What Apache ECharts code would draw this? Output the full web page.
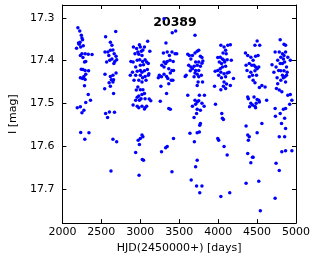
<!DOCTYPE html>
<html>
<head>
<meta charset="utf-8">
<script src="https://cdn.jsdelivr.net/npm/echarts@6/dist/echarts.min.js"></script>
<style>html,body{margin:0;padding:0;background:#fff}#c{width:316px;height:259px}</style>
</head>
<body>
<div id="c"></div>
<script>
// Each season: [HJD-2450000, I mag]
const season1 = [[2199,17.323],[2223,17.331],[2243,17.341],[2207,17.359],[2227,17.357],[2251,17.347],[2259,17.351],[2182,17.371],[2215,17.362],[2235,17.368],[2268,17.365],[2231,17.388],[2251,17.384],[2264,17.393],[2292,17.384],[2332,17.385],[2381,17.386],[2284,17.403],[2300,17.402],[2243,17.420],[2264,17.421],[2292,17.423],[2336,17.424],[2276,17.437],[2300,17.432],[2231,17.440],[2259,17.442],[2292,17.444],[2284,17.459],[2332,17.479],[2300,17.498],[2361,17.493],[2191,17.510],[2231,17.508],[2251,17.522],[2276,17.516],[2235,17.568],[2288,17.584],[2341,17.569]];
const season2 = [[2555,17.344],[2616,17.357],[2685,17.332],[2636,17.364],[2547,17.380],[2584,17.380],[2616,17.376],[2649,17.375],[2596,17.388],[2665,17.384],[2689,17.390],[2697,17.398],[2636,17.396],[2568,17.403],[2608,17.399],[2673,17.402],[2661,17.407],[2547,17.432],[2616,17.437],[2649,17.434],[2689,17.429],[2628,17.445],[2649,17.450],[2600,17.452],[2616,17.460],[2657,17.445],[2543,17.466],[2657,17.477],[2555,17.524],[2580,17.533],[2604,17.520],[2669,17.521],[2649,17.584],[2697,17.590],[2624,17.658]];
const season3 = [[2912,17.368],[2953,17.372],[2989,17.363],[3001,17.368],[3014,17.378],[2969,17.380],[3034,17.375],[3054,17.368],[3095,17.355],[3123,17.378],[3022,17.388],[2981,17.385],[2932,17.384],[2880,17.402],[2908,17.403],[2961,17.399],[2993,17.398],[3030,17.402],[3062,17.398],[3082,17.403],[3103,17.407],[3042,17.410],[3001,17.411],[2941,17.415],[2900,17.427],[2961,17.425],[3001,17.423],[3022,17.427],[3054,17.424],[3091,17.421],[3111,17.431],[3001,17.434],[3030,17.440],[3062,17.437],[3103,17.434],[2920,17.446],[2981,17.446],[3022,17.450],[2872,17.434],[2941,17.434],[3074,17.446],[2969,17.462],[2949,17.469],[3001,17.468],[3034,17.468],[3054,17.477],[3022,17.479],[2981,17.483],[2961,17.486],[3010,17.489],[2941,17.493],[2989,17.493],[3062,17.489],[3115,17.490],[3135,17.494],[2908,17.504],[2961,17.507],[3022,17.507],[3062,17.510],[3082,17.507],[2981,17.510],[3054,17.513],[3022,17.574],[3034,17.578],[3001,17.582],[2973,17.586],[2989,17.596],[2941,17.615],[3026,17.631],[3042,17.633],[2985,17.668]];
const season4 = [[3305,17.302],[3411,17.335],[3455,17.331],[3330,17.359],[3297,17.382],[3346,17.380],[3407,17.380],[3374,17.388],[3447,17.384],[3468,17.384],[3305,17.403],[3326,17.407],[3346,17.402],[3382,17.399],[3423,17.402],[3277,17.411],[3305,17.415],[3366,17.419],[3407,17.423],[3427,17.423],[3245,17.434],[3273,17.438],[3305,17.432],[3338,17.437],[3386,17.429],[3354,17.442],[3398,17.446],[3366,17.454],[3419,17.446],[3232,17.440],[3265,17.460],[3338,17.477],[3257,17.495],[3366,17.512],[3386,17.514],[3427,17.582],[3346,17.601],[3326,17.604],[3273,17.613],[3407,17.660]];
const season5 = [[3703,17.341],[3610,17.385],[3630,17.388],[3670,17.388],[3703,17.382],[3731,17.378],[3751,17.376],[3772,17.390],[3792,17.393],[3804,17.401],[3650,17.396],[3711,17.403],[3751,17.403],[3622,17.411],[3650,17.415],[3691,17.413],[3731,17.411],[3772,17.413],[3792,17.406],[3670,17.419],[3711,17.423],[3751,17.423],[3642,17.424],[3703,17.429],[3731,17.432],[3589,17.434],[3577,17.437],[3691,17.438],[3751,17.438],[3784,17.434],[3743,17.450],[3731,17.458],[3800,17.450],[3610,17.481],[3759,17.481],[3824,17.481],[3703,17.493],[3731,17.497],[3751,17.494],[3711,17.502],[3792,17.500],[3820,17.507],[3670,17.507],[3731,17.514],[3772,17.516],[3723,17.524],[3691,17.533],[3772,17.547],[3764,17.551],[3638,17.570],[3731,17.569],[3759,17.567],[3695,17.590],[3731,17.633],[3711,17.648],[3654,17.679],[3723,17.693],[3792,17.693],[3764,17.709]];
const season6 = [[4035,17.364],[4076,17.368],[4124,17.364],[4157,17.363],[4096,17.376],[4063,17.382],[4104,17.384],[3995,17.393],[4027,17.392],[4055,17.396],[4076,17.399],[4116,17.398],[4169,17.399],[4015,17.403],[4043,17.407],[4084,17.403],[3962,17.425],[3995,17.423],[4027,17.419],[4055,17.415],[4096,17.413],[4035,17.427],[4076,17.431],[4116,17.429],[4140,17.427],[4007,17.434],[4043,17.440],[4096,17.438],[4197,17.442],[4076,17.450],[4108,17.455],[4068,17.460],[4096,17.465],[4035,17.468],[4157,17.458],[3954,17.460],[3966,17.502],[4047,17.524],[4055,17.535],[4068,17.538],[3995,17.582],[4007,17.586],[4076,17.601],[4116,17.621],[4035,17.718],[4149,17.709]];
const season7 = [[4501,17.354],[4473,17.364],[4534,17.364],[4351,17.382],[4380,17.388],[4420,17.392],[4481,17.390],[4513,17.388],[4449,17.399],[4400,17.407],[4432,17.411],[4461,17.411],[4481,17.415],[4501,17.419],[4522,17.415],[4359,17.411],[4371,17.423],[4420,17.427],[4473,17.424],[4493,17.434],[4441,17.434],[4400,17.438],[4449,17.446],[4473,17.452],[4562,17.458],[4603,17.462],[4530,17.463],[4380,17.485],[4388,17.489],[4461,17.485],[4501,17.491],[4522,17.493],[4489,17.500],[4420,17.500],[4441,17.504],[4473,17.507],[4481,17.510],[4404,17.508],[4530,17.497],[4623,17.493],[4562,17.547],[4501,17.569],[4359,17.553],[4380,17.574],[4400,17.578],[4388,17.586],[4380,17.617],[4441,17.626],[4420,17.639],[4449,17.626],[4359,17.687],[4522,17.682],[4542,17.751]];
const season8 = [[4797,17.351],[4846,17.362],[4866,17.364],[4732,17.380],[4785,17.380],[4826,17.384],[4846,17.388],[4866,17.380],[4895,17.392],[4927,17.399],[4805,17.392],[4838,17.396],[4765,17.399],[4797,17.407],[4826,17.407],[4854,17.403],[4878,17.415],[4692,17.410],[4716,17.427],[4744,17.415],[4777,17.423],[4805,17.424],[4846,17.424],[4886,17.427],[4826,17.434],[4858,17.438],[4838,17.440],[4878,17.434],[4757,17.440],[4805,17.446],[4765,17.454],[4866,17.450],[4749,17.465],[4785,17.469],[4818,17.473],[4927,17.479],[4947,17.493],[4895,17.481],[4919,17.502],[4732,17.512],[4838,17.514],[4866,17.512],[4797,17.524],[4736,17.530],[4854,17.535],[4814,17.547],[4866,17.559],[4785,17.578],[4854,17.578],[4818,17.613],[4866,17.611],[4947,17.611],[4744,17.640],[4785,17.657],[4732,17.722]];

const xTicks = [2000, 2500, 3000, 3500, 4000, 4500, 5000];
const yTicks = [17.3, 17.4, 17.5, 17.6, 17.7];
const starName = '20389';
const xTitle = 'HJD(2450000+) [days]';
const yTitle = 'I [mag]';

const allPoints = [].concat(season1, season2, season3, season4, season5, season6, season7, season8);
const FONT = 'DejaVu Sans';

const chart = echarts.init(document.getElementById('c'), null, {renderer: 'canvas'});
const lineStyle = {color: '#000', width: 1};
const tickStyle = {show: true, inside: true, length: 4, lineStyle: {color: '#000', width: 1}};
chart.setOption({
  animation: false,
  backgroundColor: '#fff',
  grid: {left: 49, right: 20, top: 5, bottom: 35},
  xAxis: [{
    type: 'value', min: xTicks[0], max: xTicks[xTicks.length - 1], interval: 500,
    position: 'bottom',
    axisLine: {show: true, lineStyle: lineStyle},
    axisTick: tickStyle,
    splitLine: {show: false},
    axisLabel: {color: '#000', fontFamily: FONT, fontSize: 11, margin: 4, formatter: v => String(v)},
    name: xTitle, nameLocation: 'middle', nameGap: 18,
    nameTextStyle: {color: '#000', fontFamily: FONT, fontSize: 11}
  }, {
    type: 'value', min: xTicks[0], max: xTicks[xTicks.length - 1], interval: 500,
    position: 'top',
    axisLine: {show: true, lineStyle: lineStyle},
    axisTick: tickStyle,
    splitLine: {show: false},
    axisLabel: {show: false}
  }],
  yAxis: [{
    type: 'value', inverse: true, min: 17.27, max: 17.78,
    position: 'left',
    axisLine: {show: true, lineStyle: lineStyle},
    axisTick: Object.assign({customValues: yTicks}, tickStyle),
    splitLine: {show: false},
    axisLabel: {customValues: yTicks, color: '#000', fontFamily: FONT, fontSize: 11, margin: 8,
      formatter: v => v.toFixed(1)},
    name: yTitle, nameLocation: 'middle', nameGap: 38, nameRotate: 90,
    nameTextStyle: {color: '#000', fontFamily: FONT, fontSize: 11}
  }, {
    type: 'value', inverse: true, min: 17.27, max: 17.78,
    position: 'right',
    axisLine: {show: true, lineStyle: lineStyle},
    axisTick: Object.assign({customValues: yTicks}, tickStyle),
    splitLine: {show: false},
    axisLabel: {show: false}
  }],
  graphic: [{
    type: 'text', x: 175, y: 23,
    style: {text: starName, align: 'center', verticalAlign: 'middle',
      font: 'bold 12.5px "DejaVu Sans"', fill: '#000'}
  }],
  series: [{
    type: 'scatter', xAxisIndex: 0, yAxisIndex: 0,
    data: allPoints, symbol: 'circle', symbolSize: 3.5,
    itemStyle: {color: '#0000ff', opacity: 1}
  }]
});
</script>
</body>
</html>
